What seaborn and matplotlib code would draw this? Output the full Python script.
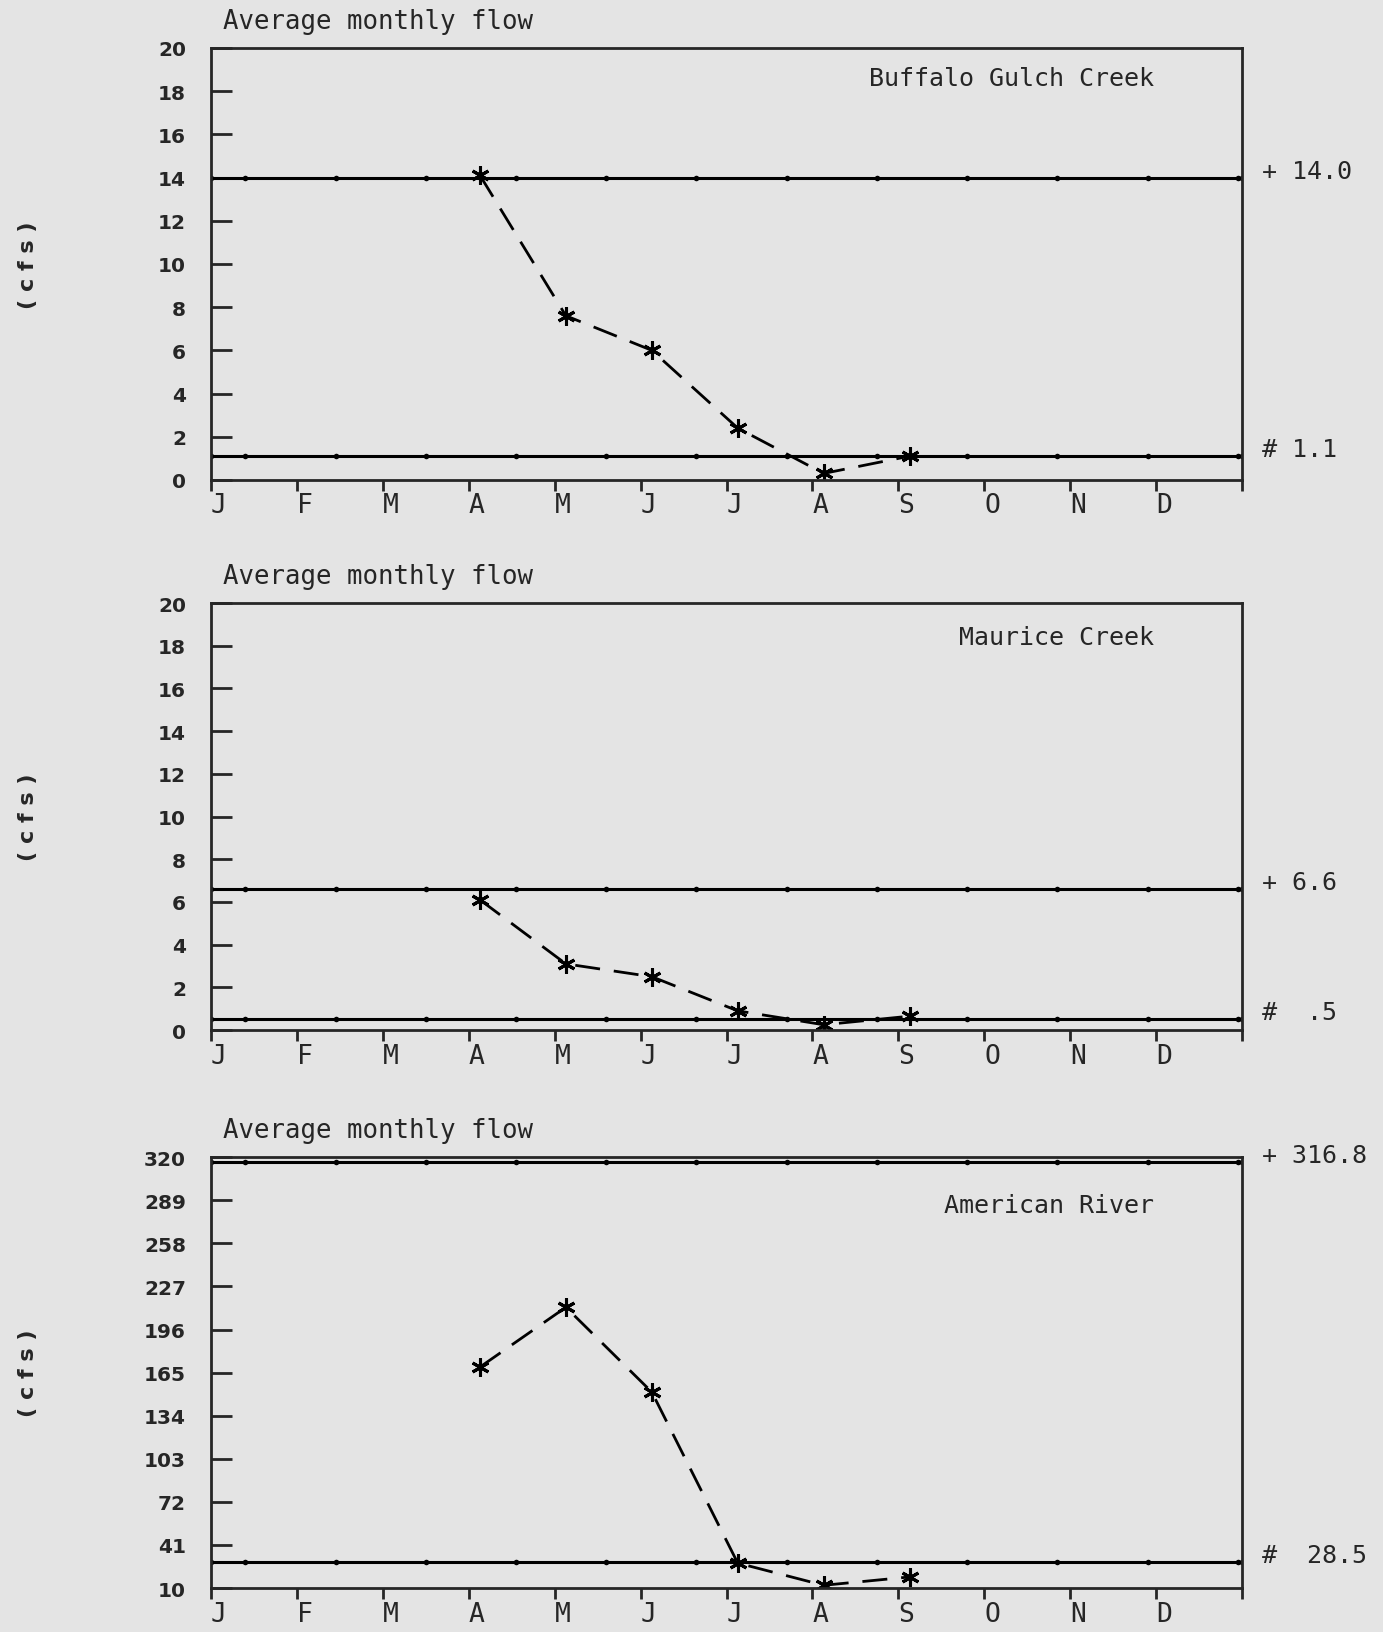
import numpy as np
import pandas as pd
import seaborn as sns
import matplotlib.pyplot as plt

# dados (cfs)
meses = ['J', 'F', 'M', 'A', 'M', 'J', 'J', 'A', 'S', 'O', 'N', 'D']
mes_obs = [3, 4, 5, 6, 7, 8]  # abr - set

estacoes = ['Buffalo Gulch Creek', 'Maurice Creek', 'American River']

buffalo_vazao = [14.1, 7.6, 6.0, 2.4, 0.3, 1.1]
maurice_vazao = [6.1, 3.1, 2.5, 0.9, 0.25, 0.65]
american_vazao = [169, 212, 151, 28, 12, 18]

buffalo_ref = [14.0, 1.1]
maurice_ref = [6.6, 0.5]
american_ref = [316.8, 28.5]

buffalo_rotulos = ['+ 14.0', '# 1.1']
maurice_rotulos = ['+ 6.6', '#  .5']
american_rotulos = ['+ 316.8', '#  28.5']

buffalo_yticks = [0, 2, 4, 6, 8, 10, 12, 14, 16, 18, 20]
maurice_yticks = [0, 2, 4, 6, 8, 10, 12, 14, 16, 18, 20]
american_yticks = [10, 41, 72, 103, 134, 165, 196, 227, 258, 289, 320]

fundo = '#e4e4e4'
sns.set_style('ticks')
plt.rcParams['font.family'] = ['DejaVu Sans Mono', 'DejaVu Sans']

fig = plt.figure(figsize=(13.83, 16.33), dpi=100, facecolor=fundo)

posicoes = [
    [0.1526, 0.7055, 0.7455, 0.2645],
    [0.1526, 0.3686, 0.7455, 0.2615],
    [0.1526, 0.0269, 0.7455, 0.2639],
]
nome_y = [0.93, 0.92, 0.89]

paineis = [
    (buffalo_vazao, buffalo_ref, buffalo_rotulos, buffalo_yticks),
    (maurice_vazao, maurice_ref, maurice_rotulos, maurice_yticks),
    (american_vazao, american_ref, american_rotulos, american_yticks),
]

# pontinhos ao longo das linhas de referencia
x_pontos = np.concatenate([[0], np.arange(0.4, 12, 1.05), [12]])

for i, (vazao, ref, rotulos, yticks) in enumerate(paineis):
    ax = fig.add_axes(posicoes[i])
    ax.set_facecolor(fundo)

    for valor in ref:
        sns.lineplot(x=x_pontos, y=[valor] * len(x_pontos), ax=ax, color='black',
                     linewidth=2.2, marker='o', markersize=4, markeredgewidth=0)

    tabela = pd.DataFrame({'mes': np.array(mes_obs) + 0.13, 'vazao': vazao})
    sns.lineplot(data=tabela, x='mes', y='vazao', ax=ax, color='black', linewidth=2,
                 dashes=False)
    ax.lines[-1].set_dashes((9, 5))
    ax.plot(tabela['mes'], tabela['vazao'], linestyle='none', marker=(6, 2, 0),
            markersize=13, markeredgewidth=2.2, color='black')

    for valor, rotulo in zip(ref, rotulos):
        ax.annotate(rotulo, xy=(1, valor), xycoords=('axes fraction', 'data'),
                    xytext=(14, 5), textcoords='offset points', va='center',
                    ha='left', fontsize=18)

    ax.set_xlim(0, 12)
    ax.set_ylim(yticks[0], yticks[-1])
    ax.set_xticks(range(13))
    ax.set_xticklabels(meses + [''], fontsize=19)
    ax.set_yticks(yticks)
    ax.set_yticklabels([str(t) for t in yticks], fontsize=14.5, family='DejaVu Sans',
                       fontweight='bold')
    ax.tick_params(axis='y', direction='in', length=15, width=2, pad=18)
    ax.tick_params(axis='x', direction='out', length=8, width=2, pad=1)
    for lab in ax.get_xticklabels():
        lab.set_horizontalalignment('left')
    for s in ax.spines.values():
        s.set_linewidth(2)

    ax.set_xlabel('')
    ax.set_ylabel('( c f s )', fontsize=16, family='DejaVu Sans', fontweight='bold')
    ax.yaxis.set_label_coords(-0.168, 0.5)

    ax.annotate('Average monthly flow', xy=(0.012, 1), xycoords='axes fraction',
                xytext=(0, 10), textcoords='offset points', va='bottom',
                ha='left', fontsize=18.5)
    ax.text(0.915, nome_y[i], estacoes[i], transform=ax.transAxes, ha='right',
            va='center', fontsize=18)

fig.savefig('out.png', dpi=100, facecolor=fundo)
